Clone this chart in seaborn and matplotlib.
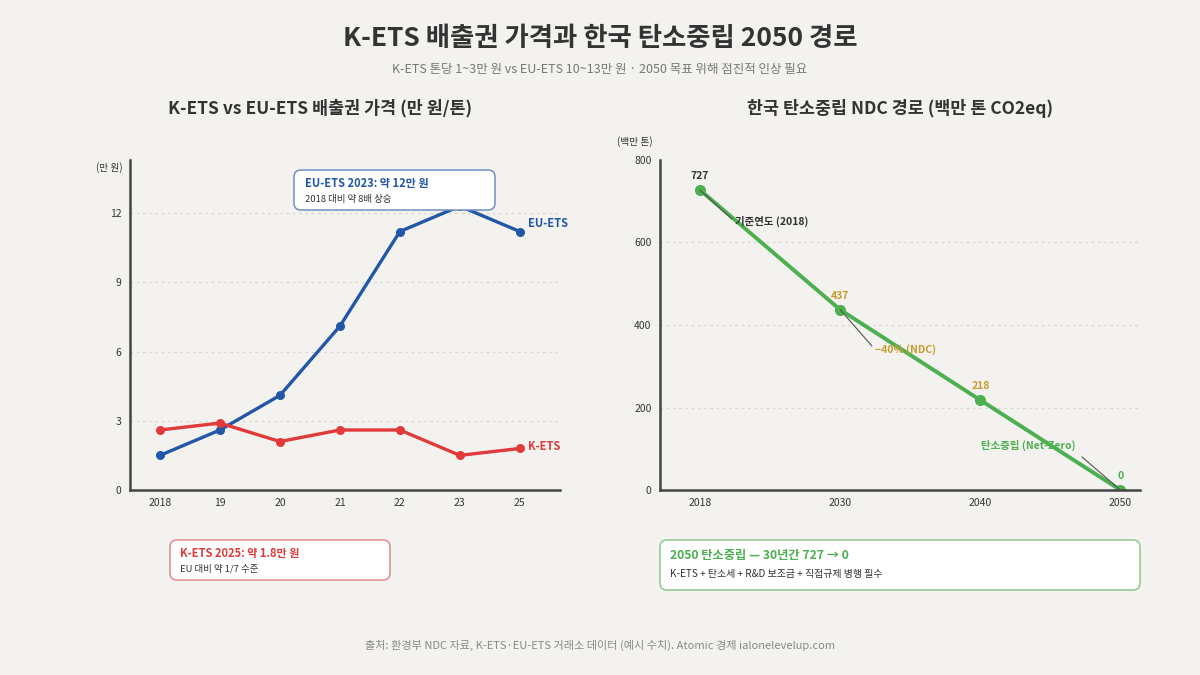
import matplotlib
matplotlib.use("Agg")
import matplotlib.pyplot as plt
from matplotlib.patches import FancyBboxPatch
import seaborn as sns
import pandas as pd

# ---------------- data ----------------
years_left = ["2018", "19", "20", "21", "22", "23", "25"]
eu_ets = [1.5, 2.6, 4.1, 7.1, 11.2, 12.3, 11.2]
k_ets = [2.6, 2.9, 2.1, 2.6, 2.6, 1.5, 1.8]
left_yticks = [0, 3, 6, 9, 12]

years_right = ["2018", "2030", "2040", "2050"]
emissions = [727, 437, 218, 0]
right_yticks = [0, 200, 400, 600, 800]

# ---------------- style ----------------
BG = "#f4f2ee"
BLUE = "#2256a8"
RED = "#e03a3a"
GREEN = "#4caf50"
GOLD = "#c99a2e"
DARK = "#333333"
SPINE = "#444444"
GRID = "#d8d6d2"

sns.set_theme(style="white")
plt.rcParams["font.family"] = ["Noto Sans CJK KR", "DejaVu Sans"]
plt.rcParams["axes.unicode_minus"] = False

fig = plt.figure(figsize=(12, 6.75), dpi=100, facecolor=BG)

def fx(px):
    return px / 1200.0

def fy(py):
    return 1 - py / 675.0

ax1 = fig.add_axes([fx(130), fy(490), fx(560) - fx(130), fy(160) - fy(490)])
ax2 = fig.add_axes([fx(660), fy(490), fx(1140) - fx(660), fy(160) - fy(490)])

for ax in (ax1, ax2):
    ax.set_facecolor(BG)
    for s in ("top", "right"):
        ax.spines[s].set_visible(False)
    for s in ("left", "bottom"):
        ax.spines[s].set_color(SPINE)
        ax.spines[s].set_linewidth(1.8)
    ax.tick_params(length=0, labelsize=7.5, colors=DARK, pad=6)

# ---------------- left chart ----------------
df_left = pd.DataFrame({
    "year": years_left * 2,
    "value": eu_ets + k_ets,
    "series": ["EU-ETS"] * len(years_left) + ["K-ETS"] * len(years_left),
})
sns.lineplot(data=df_left, x="year", y="value", hue="series",
             palette={"EU-ETS": BLUE, "K-ETS": RED}, marker="o",
             markersize=6.5, markeredgewidth=0, linewidth=2.4,
             legend=False, ax=ax1, sort=False)
ax1.set_xlim(-0.5, 6.67)
ax1.set_ylim(0, 14.3)
ax1.set_yticks(left_yticks)
ax1.set_yticklabels([str(v) for v in left_yticks])
for v in left_yticks[1:]:
    ax1.axhline(v, color=GRID, linestyle=(0, (2, 3)), linewidth=0.9, zorder=0)
ax1.set_xlabel("")
ax1.set_ylabel("")
ax1.text(len(years_left) - 1 + 0.13, eu_ets[-1] + 0.35, "EU-ETS", color=BLUE,
         fontsize=8, fontweight="bold", ha="left", va="center")
ax1.text(len(years_left) - 1 + 0.13, k_ets[-1] + 0.08, "K-ETS", color=RED,
         fontsize=8, fontweight="bold", ha="left", va="center")
fig.text(fx(109), fy(168), "(만 원)", fontsize=7, color=DARK, ha="center", va="center")

# ---------------- right chart ----------------
df_right = pd.DataFrame({"year": years_right, "value": emissions})
sns.lineplot(data=df_right, x="year", y="value", color=GREEN, marker="o",
             markersize=8, markeredgewidth=0, linewidth=2.8, ax=ax2, sort=False)
ax2.set_xlim(-0.286, 3.14)
ax2.set_ylim(0, 800)
ax2.set_yticks(right_yticks)
ax2.set_yticklabels([str(v) for v in right_yticks])
for v in right_yticks[1:-1]:
    ax2.axhline(v, color=GRID, linestyle=(0, (2, 3)), linewidth=0.9, zorder=0)
ax2.set_xlabel("")
ax2.set_ylabel("")
fig.text(fx(635), fy(142), "(백만 톤)", fontsize=7, color=DARK, ha="center", va="center")

# value labels
label_colors = [DARK, GOLD, GOLD, GREEN]
for i, (v, c) in enumerate(zip(emissions, label_colors)):
    ax2.annotate(str(v), (i, v), xytext=(0, 6.5), textcoords="offset points",
                 ha="center", va="bottom", fontsize=7.5, fontweight="bold", color=c)

# callouts
ax2.annotate("기준연도 (2018)", xy=(0, emissions[0]), xytext=(0.25, 650),
             fontsize=7.5, fontweight="bold", color=DARK, ha="left", va="center",
             arrowprops=dict(arrowstyle="-", color="#555555", lw=0.8,
                             shrinkA=0, shrinkB=0, relpos=(0, 0.5)))
ax2.annotate("−40% (NDC)", xy=(1, emissions[1]), xytext=(1.25, 340),
             fontsize=7.5, fontweight="bold", color=GOLD, ha="left", va="center",
             arrowprops=dict(arrowstyle="-", color="#555555", lw=0.8,
                             shrinkA=0, shrinkB=0, relpos=(0, 0.5)))
ax2.annotate("탄소중립 (Net-Zero)", xy=(3, emissions[3]), xytext=(2.68, 107),
             fontsize=7.5, fontweight="bold", color=GREEN, ha="right", va="center",
             arrowprops=dict(arrowstyle="-", color="#555555", lw=0.8,
                             shrinkA=3, shrinkB=0, relpos=(1, 0.0)))

# ---------------- boxes ----------------
def box(x0, y0, x1, y1, edge):
    p = FancyBboxPatch((x0 / 100.0, (675 - y1) / 100.0),
                       (x1 - x0) / 100.0, (y1 - y0) / 100.0,
                       boxstyle="round,pad=0,rounding_size=0.07",
                       transform=fig.dpi_scale_trans, facecolor="white",
                       edgecolor=edge, linewidth=1.1, zorder=5)
    fig.patches.append(p)

box(294, 170, 495, 210, "#6f8fc4")
fig.text(fx(305), fy(183), "EU-ETS 2023: 약 12만 원", fontsize=8, fontweight="bold",
         color=BLUE, ha="left", va="center", zorder=6)
fig.text(fx(305), fy(199), "2018 대비 약 8배 상승", fontsize=6.8, color=DARK,
         ha="left", va="center", zorder=6)

box(170, 540, 390, 580, "#e08a8a")
fig.text(fx(180), fy(553), "K-ETS 2025: 약 1.8만 원", fontsize=8, fontweight="bold",
         color=RED, ha="left", va="center", zorder=6)
fig.text(fx(180), fy(569), "EU 대비 약 1/7 수준", fontsize=6.8, color=DARK,
         ha="left", va="center", zorder=6)

box(660, 540, 1140, 590, "#8cc88e")
fig.text(fx(670), fy(555), "2050 탄소중립 — 30년간 727 → 0", fontsize=8.8,
         fontweight="bold", color=GREEN, ha="left", va="center", zorder=6)
fig.text(fx(670), fy(574), "K-ETS + 탄소세 + R&D 보조금 + 직접규제 병행 필수",
         fontsize=7.2, color=DARK, ha="left", va="center", zorder=6)

# ---------------- titles ----------------
fig.text(0.5, fy(38), "K-ETS 배출권 가격과 한국 탄소중립 2050 경로", fontsize=19,
         fontweight="bold", color=DARK, ha="center", va="center")
fig.text(0.5, fy(69), "K-ETS 톤당 1~3만 원 vs EU-ETS 10~13만 원 · 2050 목표 위해 점진적 인상 필요",
         fontsize=9, color="#777777", ha="center", va="center")
fig.text(fx(320), fy(108), "K-ETS vs EU-ETS 배출권 가격 (만 원/톤)", fontsize=12.5,
         fontweight="bold", color=DARK, ha="center", va="center")
fig.text(fx(900), fy(108), "한국 탄소중립 NDC 경로 (백만 톤 CO2eq)", fontsize=12.5,
         fontweight="bold", color=DARK, ha="center", va="center")
fig.text(0.5, fy(645), "출처: 환경부 NDC 자료, K-ETS·EU-ETS 거래소 데이터 (예시 수치). Atomic 경제 ialonelevelup.com",
         fontsize=8, color="#888888", ha="center", va="center")

fig.savefig("out.png", dpi=100, facecolor=BG)
